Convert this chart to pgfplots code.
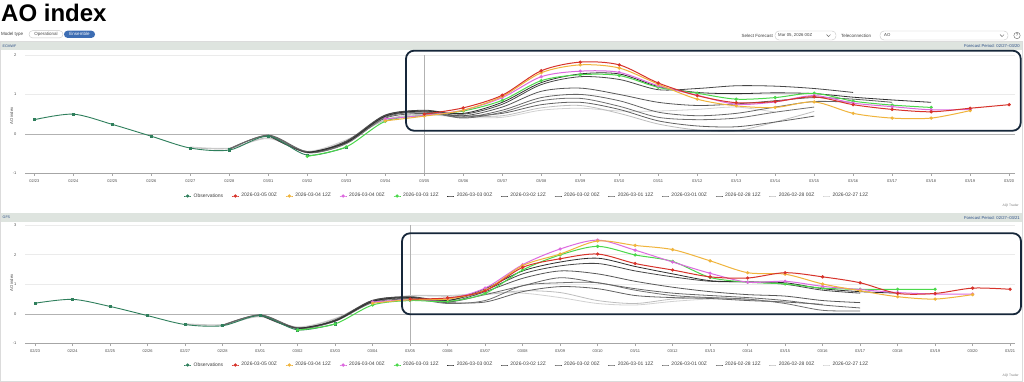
\documentclass[border=0pt]{standalone}
\usepackage{fontspec}
\setmainfont{Liberation Sans}
\usepackage{pgfplots}
\pgfplotsset{compat=1.18}
\definecolor{cObs}{HTML}{2F7F5C}
\definecolor{cRed}{HTML}{D7332B}
\definecolor{cOra}{HTML}{F0B43C}
\definecolor{cMag}{HTML}{DD6ADF}
\definecolor{cGre}{HTML}{4BD84B}
\definecolor{cBar}{HTML}{DEE4DF}
\definecolor{cNavy}{HTML}{2B4E86}
\definecolor{cBtn}{HTML}{3D6DB3}
\definecolor{cBox}{HTML}{16273A}
\newcommand\fs[1]{\fontsize{#1}{#1}\selectfont}
\pgfplotsset{
  sObs/.style={color=cObs, line width=0.9pt, smooth, mark=square*, mark size=1.1pt, mark options={solid}},
  sRed/.style={color=cRed, line width=1.0pt, smooth, mark=*, mark size=1.1pt, mark options={solid}},
  sOra/.style={color=cOra, line width=1.0pt, smooth, mark=*, mark size=1.1pt, mark options={solid}},
  sMag/.style={color=cMag, line width=1.0pt, smooth, mark=*, mark size=1.1pt, mark options={solid}},
  sGre/.style={color=cGre, line width=1.0pt, smooth, mark=*, mark size=1.1pt, mark options={solid}},
  sG1/.style={color=black!82, line width=0.8pt, smooth, mark=none},
  sG2/.style={color=black!72, line width=0.8pt, smooth, mark=none},
  sG3/.style={color=black!66, line width=0.8pt, smooth, mark=none},
  sG4/.style={color=black!60, line width=0.8pt, smooth, mark=none},
  sG5/.style={color=black!56, line width=0.8pt, smooth, mark=none},
  sG6/.style={color=black!62, line width=0.8pt, smooth, mark=none},
  sG7/.style={color=black!26, line width=0.8pt, smooth, mark=none},
  sG8/.style={color=black!18, line width=0.8pt, smooth, mark=none},
  panel/.style={
    scale only axis, width=990pt, anchor=south west,
    enlargelimits=false,
    ymajorgrids, grid style={color=black!8, line width=0.4pt},
    axis x line=bottom, axis y line=left,
    axis line style={-},
    every outer x axis line/.append style={-, color=black!35, line width=0.6pt},
    every outer y axis line/.append style={-, draw=none},
    tick align=outside, xtick pos=bottom, ytick pos=left,
    major tick length=2.5pt,
    xtick style={color=black!35, line width=0.5pt},
    ytick style={draw=none},
    ticklabel style={font=\fs{4}, text=black!70},
    yticklabel style={xshift=-2.5pt},
    /pgf/number format/assume math mode=true,
    legend columns=-1,
    legend style={draw=none, fill=none, font=\fs{5}, text=black!75,
      /tikz/every even column/.append style={column sep=6.3pt}},
    legend image code/.code={\draw[mark repeat=2,mark phase=2,##1] plot coordinates {(0pt,0pt) (3.5pt,0pt) (7pt,0pt)};},
  },
}
\begin{document}
\begin{tikzpicture}
\fill[white, use as bounding box] (0pt,0pt) rectangle (1024pt,-382pt);
% title and controls
\node[anchor=base west, font=\bfseries\fs{24}, inner sep=0pt] at (1pt,-21.7pt) {AO index};
\node[anchor=west, font=\fs{4.5}, text=black!75, inner sep=0pt] at (1pt,-34.3pt) {Model type};
\draw[black!22, fill=white, rounded corners=3.5pt, line width=0.4pt] (29pt,-30.7pt) rectangle (63pt,-37.9pt);
\node[font=\fs{4.5}, text=black!70, inner sep=0pt] at (46pt,-34.3pt) {Operational};
\fill[cBtn, rounded corners=3.5pt] (64pt,-30.7pt) rectangle (95pt,-37.9pt);
\node[font=\fs{4.5}, text=white, inner sep=0pt] at (79.5pt,-34.3pt) {Ensemble};
\node[anchor=east, font=\fs{4.5}, text=black!75, inner sep=0pt] at (773pt,-35.5pt) {Select Forecast};
\draw[black!22, fill=white, rounded corners=4pt, line width=0.4pt] (775pt,-31pt) rectangle (836pt,-40pt);
\node[anchor=west, font=\fs{4.3}, text=black!75, inner sep=0pt] at (778pt,-35.5pt) {Mar 05, 2026 00Z};
\draw[black!60, line width=0.5pt] (826.5pt,-34.6pt) -- (828.5pt,-36.6pt) -- (830.5pt,-34.6pt);
\node[anchor=west, font=\fs{4.5}, text=black!75, inner sep=0pt] at (841pt,-35.5pt) {Teleconnection};
\draw[black!22, fill=white, rounded corners=4pt, line width=0.4pt] (880pt,-31pt) rectangle (1008pt,-40pt);
\node[anchor=west, font=\fs{4.3}, text=black!75, inner sep=0pt] at (884pt,-35.5pt) {AO};
\draw[black!60, line width=0.5pt] (1000pt,-34.6pt) -- (1002pt,-36.6pt) -- (1004pt,-34.6pt);
\draw[black!60, line width=0.4pt] (1017pt,-35.5pt) circle (3.2pt);
\node[font=\fs{4.3}, text=black!70, inner sep=0pt] at (1017pt,-35.5pt) {?};
% frame and header bars
\draw[black!14, line width=0.5pt] (0.5pt,-41.5pt) rectangle (1022.5pt,-381.5pt);
\fill[cBar] (1pt,-41.7pt) rectangle (1022pt,-50pt);
\node[anchor=west, font=\fs{3.6}, text=cNavy, inner sep=0pt] at (2.5pt,-45.9pt) {ECMWF};
\node[anchor=east, font=\fs{4.2}, text=cNavy, inner sep=0pt] at (1020pt,-45.9pt) {Forecast Period: 02/27--03/20};
\fill[cBar] (1pt,-213.3pt) rectangle (1022pt,-221.7pt);
\node[anchor=west, font=\fs{3.6}, text=cNavy, inner sep=0pt] at (2.5pt,-217.5pt) {GFS};
\node[anchor=east, font=\fs{4.2}, text=cNavy, inner sep=0pt] at (1020pt,-217.5pt) {Forecast Period: 02/27--03/21};
\node[anchor=east, font=\fs{3.3}, text=black!50, inner sep=0pt] at (1019pt,-205.5pt) {AQI Trader};
\node[anchor=east, font=\fs{3.3}, text=black!50, inner sep=0pt] at (1019pt,-376pt) {AQI Trader};
\node[rotate=90, font=\fs{4.2}, text=black!70, inner sep=0pt] at (11.7pt,-116pt) {AO index};
\node[rotate=90, font=\fs{4.2}, text=black!70, inner sep=0pt] at (11.7pt,-283pt) {AO index};

% ---------------- ECMWF ----------------
\begin{axis}[panel, at={(25pt,-173.3pt)}, height=118.3pt,
  xmin=-0.24, xmax=25.15, ymin=-1, ymax=2, ytick={-1,0,1,2},
  xtick={0,...,25},
  xticklabels={02/23,02/24,02/25,02/26,02/27,02/28,03/01,03/02,03/03,03/04,03/05,03/06,03/07,03/08,03/09,03/10,03/11,03/12,03/13,03/14,03/15,03/16,03/17,03/18,03/19,03/20},
  legend style={at={(0.507,0)}, anchor=center, yshift=-22.7pt}]
\draw[black!30, line width=0.7pt] (axis cs:-0.24,0) -- (axis cs:25.15,0);
\draw[black!30, line width=0.6pt] (axis cs:10,-1) -- (axis cs:10,2);
\addplot[sG8, forget plot] coordinates {(4,-0.33)(5,-0.36)(6,-0.12)(7,-0.44)(8,-0.15)(9,0.34)(10,0.48)(11,0.42)(12,0.42)(13,0.60)(14,0.65)(15,0.58)(16,0.58)(17,0.62)(18,0.68)(19,0.55)};
\addplot[sG7, forget plot] coordinates {(4,-0.35)(5,-0.37)(6,-0.10)(7,-0.45)(8,-0.18)(9,0.36)(10,0.50)(11,0.45)(12,0.46)(13,0.66)(14,0.72)(15,0.52)(16,0.25)(17,0.10)(18,0.08)(19,0.30)(20,0.57)};
\addplot[sG6, forget plot] coordinates {(5,-0.38)(6,-0.04)(7,-0.47)(8,-0.24)(9,0.40)(10,0.52)(11,0.45)(12,0.52)(13,0.74)(14,0.80)(15,0.62)(16,0.33)(17,0.20)(18,0.18)(19,0.30)(20,0.45)};
\addplot[sG5, forget plot] coordinates {(5,-0.38)(6,-0.05)(7,-0.48)(8,-0.25)(9,0.42)(10,0.55)(11,0.40)(12,0.55)(13,0.84)(14,0.90)(15,0.70)(16,0.42)(17,0.36)(18,0.40)(19,0.55)(20,0.68)};
\addplot[sG4, forget plot] coordinates {(5,-0.40)(6,-0.03)(7,-0.45)(8,-0.22)(9,0.44)(10,0.56)(11,0.42)(12,0.60)(13,0.92)(14,1.00)(15,0.84)(16,0.55)(17,0.46)(18,0.52)(19,0.68)(20,0.82)(21,0.80)};
\addplot[sG3, forget plot] coordinates {(6,-0.03)(7,-0.46)(8,-0.18)(9,0.48)(10,0.58)(11,0.46)(12,0.68)(13,1.08)(14,1.16)(15,1.00)(16,0.80)(17,0.72)(18,0.76)(19,0.84)(20,0.92)(21,0.88)(22,0.80)};
\addplot[sG2, forget plot] coordinates {(6,-0.04)(7,-0.47)(8,-0.20)(9,0.47)(10,0.60)(11,0.50)(12,0.75)(13,1.25)(14,1.45)(15,1.38)(16,1.12)(17,1.15)(18,1.22)(19,1.21)(20,1.15)(21,1.05)};
\addplot[sG1, forget plot] coordinates {(7,-0.48)(8,-0.22)(9,0.45)(10,0.58)(11,0.52)(12,0.80)(13,1.30)(14,1.52)(15,1.52)(16,1.20)(17,1.05)(18,1.02)(19,1.04)(20,1.02)(21,0.93)(22,0.86)(23,0.80)};
\addplot[sObs, forget plot] coordinates {(0,0.36)(1,0.50)(2,0.24)(3,-0.06)(4,-0.36)(5,-0.41)(6,-0.06)(7,-0.54)(8,-0.34)};
\addplot[sGre, forget plot] coordinates {(7,-0.57)(8,-0.33)(9,0.32)(10,0.47)(11,0.58)(12,0.85)(13,1.35)(14,1.50)(15,1.48)(16,1.18)(17,1.03)(18,0.88)(19,0.92)(20,1.03)(21,0.83)(22,0.73)(23,0.67)};
\addplot[sMag, forget plot] coordinates {(9,0.38)(10,0.47)(11,0.60)(12,0.92)(13,1.45)(14,1.59)(15,1.56)(16,1.22)(17,0.98)(18,0.75)(19,0.81)(20,0.97)(21,0.78)(22,0.69)(23,0.61)(24,0.62)};
\addplot[sOra, forget plot] coordinates {(9,0.33)(10,0.45)(11,0.60)(12,0.95)(13,1.55)(14,1.75)(15,1.67)(16,1.26)(17,0.88)(18,0.71)(19,0.67)(20,0.81)(21,0.52)(22,0.40)(23,0.40)(24,0.59)};
\addplot[sRed, forget plot] coordinates {(10,0.50)(11,0.66)(12,0.98)(13,1.60)(14,1.82)(15,1.75)(16,1.29)(17,0.97)(18,0.79)(19,0.82)(20,0.94)(21,0.74)(22,0.62)(23,0.56)(24,0.65)(25,0.74)};
\addlegendimage{sObs, mark=*}\addlegendentry{Observations}
\addlegendimage{sRed}\addlegendentry{2026-03-05 00Z}
\addlegendimage{sOra}\addlegendentry{2026-03-04 12Z}
\addlegendimage{sMag}\addlegendentry{2026-03-04 00Z}
\addlegendimage{sGre}\addlegendentry{2026-03-03 12Z}
\addlegendimage{sG1}\addlegendentry{2026-03-03 00Z}
\addlegendimage{sG2}\addlegendentry{2026-03-02 12Z}
\addlegendimage{sG3}\addlegendentry{2026-03-02 00Z}
\addlegendimage{sG4}\addlegendentry{2026-03-01 12Z}
\addlegendimage{sG5}\addlegendentry{2026-03-01 00Z}
\addlegendimage{sG6}\addlegendentry{2026-02-28 12Z}
\addlegendimage{sG7}\addlegendentry{2026-02-28 00Z}
\addlegendimage{sG8}\addlegendentry{2026-02-27 12Z}
\end{axis}

% ---------------- GFS ----------------
\begin{axis}[panel, at={(25pt,-343.5pt)}, height=118.5pt,
  xmin=-0.27, xmax=26.13, ymin=-1, ymax=3, ytick={-1,0,1,2,3},
  xtick={0,...,26},
  xticklabels={02/23,02/24,02/25,02/26,02/27,02/28,03/01,03/02,03/03,03/04,03/05,03/06,03/07,03/08,03/09,03/10,03/11,03/12,03/13,03/14,03/15,03/16,03/17,03/18,03/19,03/20,03/21},
  legend style={at={(0.507,0)}, anchor=center, yshift=-21.5pt}]
\draw[black!30, line width=0.7pt] (axis cs:-0.27,0) -- (axis cs:26.13,0);
\draw[black!30, line width=0.6pt] (axis cs:10,-1) -- (axis cs:10,3);
\addplot[sG8, forget plot] coordinates {(4,-0.33)(5,-0.36)(6,-0.10)(7,-0.44)(8,-0.15)(9,0.42)(10,0.62)(11,0.62)(12,0.70)(13,0.70)(14,0.55)(15,0.35)(16,0.30)(17,0.42)(18,0.50)(19,0.48)};
\addplot[sG7, forget plot] coordinates {(4,-0.35)(5,-0.37)(6,-0.08)(7,-0.46)(8,-0.17)(9,0.40)(10,0.60)(11,0.60)(12,0.65)(13,0.78)(14,0.72)(15,0.45)(16,0.35)(17,0.50)(18,0.55)(19,0.48)(20,0.40)};
\addplot[sG6, forget plot] coordinates {(5,-0.38)(6,-0.04)(7,-0.48)(8,-0.24)(9,0.38)(10,0.50)(11,0.38)(12,0.40)(13,0.75)(14,0.92)(15,0.85)(16,0.62)(17,0.55)(18,0.52)(19,0.45)(20,0.40)(21,0.32)};
\addplot[sG5, forget plot] coordinates {(5,-0.39)(6,-0.05)(7,-0.50)(8,-0.25)(9,0.40)(10,0.52)(11,0.35)(12,0.45)(13,0.95)(14,1.05)(15,1.05)(16,0.80)(17,0.62)(18,0.55)(19,0.50)(20,0.35)(21,0.12)(22,0.10)};
\addplot[sG4, forget plot] coordinates {(5,-0.40)(6,-0.03)(7,-0.47)(8,-0.22)(9,0.43)(10,0.55)(11,0.40)(12,0.65)(13,0.95)(14,1.22)(15,1.05)(16,0.85)(17,0.70)(18,0.62)(19,0.55)(20,0.45)(21,0.30)(22,0.20)};
\addplot[sG3, forget plot] coordinates {(6,-0.04)(7,-0.49)(8,-0.20)(9,0.46)(10,0.56)(11,0.40)(12,0.75)(13,1.20)(14,1.45)(15,1.35)(16,1.10)(17,0.90)(18,0.75)(19,0.65)(20,0.60)(21,0.45)(22,0.38)};
\addplot[sG2, forget plot] coordinates {(6,-0.03)(7,-0.48)(8,-0.22)(9,0.45)(10,0.58)(11,0.45)(12,0.80)(13,1.35)(14,1.62)(15,1.70)(16,1.45)(17,1.25)(18,1.10)(19,1.08)(20,1.00)(21,0.80)(22,0.70)};
\addplot[sG1, forget plot] coordinates {(7,-0.50)(8,-0.24)(9,0.42)(10,0.55)(11,0.45)(12,0.85)(13,1.45)(14,1.75)(15,1.88)(16,1.60)(17,1.35)(18,1.12)(19,1.08)(20,1.05)(21,0.85)(22,0.75)(23,0.70)};
\addplot[sObs, forget plot] coordinates {(0,0.36)(1,0.49)(2,0.25)(3,-0.06)(4,-0.36)(5,-0.40)(6,-0.06)(7,-0.54)(8,-0.34)};
\addplot[sGre, forget plot] coordinates {(7,-0.55)(8,-0.34)(9,0.30)(10,0.45)(11,0.42)(12,0.69)(13,1.48)(14,1.99)(15,2.28)(16,1.99)(17,1.77)(18,1.23)(19,1.07)(20,1.01)(21,0.87)(22,0.83)(23,0.83)(24,0.83)};
\addplot[sMag, forget plot] coordinates {(9,0.40)(10,0.48)(11,0.50)(12,0.87)(13,1.66)(14,2.19)(15,2.49)(16,2.15)(17,1.75)(18,1.37)(19,1.07)(20,1.10)(21,0.93)(22,0.82)(23,0.72)(24,0.67)(25,0.67)};
\addplot[sOra, forget plot] coordinates {(9,0.36)(10,0.48)(11,0.50)(12,0.80)(13,1.63)(14,2.02)(15,2.46)(16,2.31)(17,2.17)(18,1.79)(19,1.39)(20,1.34)(21,1.01)(22,0.78)(23,0.58)(24,0.50)(25,0.65)};
\addplot[sRed, forget plot] coordinates {(10,0.50)(11,0.54)(12,0.78)(13,1.57)(14,1.86)(15,2.02)(16,1.70)(17,1.48)(18,1.25)(19,1.21)(20,1.39)(21,1.25)(22,1.05)(23,0.69)(24,0.69)(25,0.87)(26,0.83)};
\addlegendimage{sObs, mark=*}\addlegendentry{Observations}
\addlegendimage{sRed}\addlegendentry{2026-03-05 00Z}
\addlegendimage{sOra}\addlegendentry{2026-03-04 12Z}
\addlegendimage{sMag}\addlegendentry{2026-03-04 00Z}
\addlegendimage{sGre}\addlegendentry{2026-03-03 12Z}
\addlegendimage{sG1}\addlegendentry{2026-03-03 00Z}
\addlegendimage{sG2}\addlegendentry{2026-03-02 12Z}
\addlegendimage{sG3}\addlegendentry{2026-03-02 00Z}
\addlegendimage{sG4}\addlegendentry{2026-03-01 12Z}
\addlegendimage{sG5}\addlegendentry{2026-03-01 00Z}
\addlegendimage{sG6}\addlegendentry{2026-02-28 12Z}
\addlegendimage{sG7}\addlegendentry{2026-02-28 00Z}
\addlegendimage{sG8}\addlegendentry{2026-02-27 12Z}
\end{axis}

% annotation boxes
\draw[cBox, line width=1.8pt, rounded corners=8pt] (406pt,-50.7pt) rectangle (1020.7pt,-130.7pt);
\draw[cBox, line width=1.8pt, rounded corners=8pt] (402pt,-233.3pt) rectangle (1021pt,-314.3pt);
\end{tikzpicture}
\end{document}
